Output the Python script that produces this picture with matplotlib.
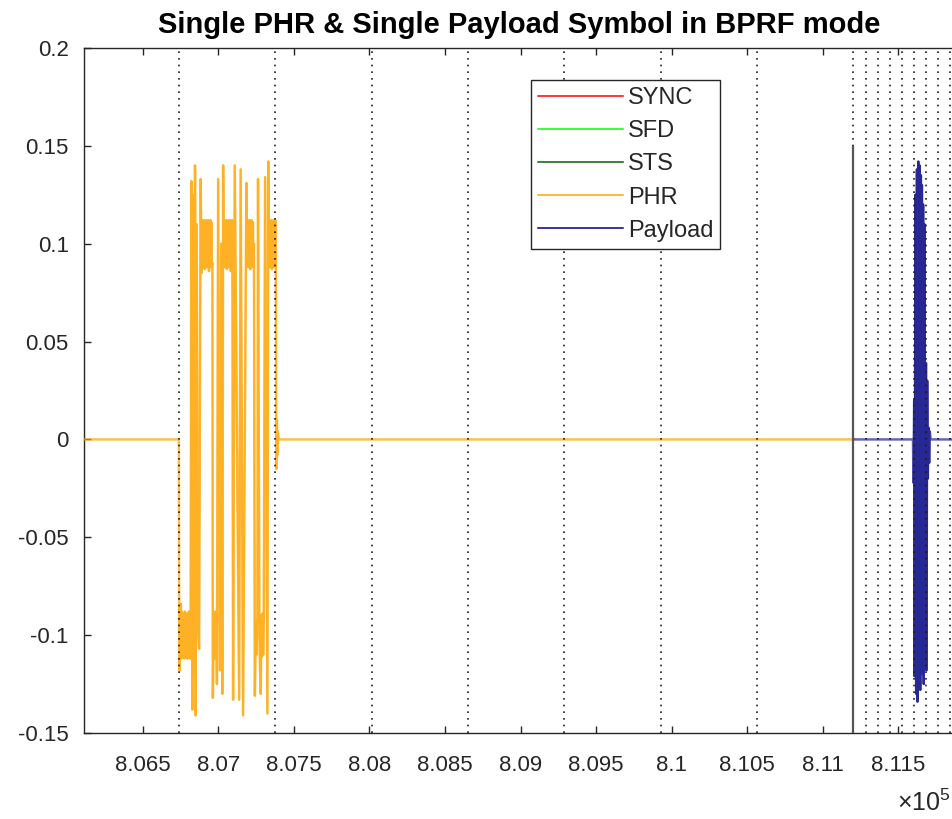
import matplotlib
matplotlib.use("Agg")
import matplotlib.pyplot as plt
from matplotlib.lines import Line2D
from matplotlib.ticker import FixedLocator, FuncFormatter

plt.rcParams['font.family'] = ['Liberation Sans', 'DejaVu Sans']
plt.rcParams['mathtext.fontset'] = 'custom'
plt.rcParams['mathtext.rm'] = 'Liberation Sans'
plt.rcParams['axes.unicode_minus'] = False

# frame positions (samples)
x_start = 806000
phr_start = 806738
payload_start = 811204
x_end = 812000

# dotted markers: symbol boundaries and payload chip boundaries
symbol_bounds = [806738, 807376, 808014, 808652, 809290, 809928, 810566, 811204]
chip_bounds = [811284, 811364, 811443, 811523, 811603, 811683, 811762, 811842]
marker_lo, marker_hi = -0.15, 0.15

# PHR symbol, offsets from phr_start and amplitude
phr_dt = [0, 2, 5,
          7, 10, 13, 17, 20, 23, 26, 30, 33, 36, 40, 43, 46, 50, 53, 56, 60, 63, 66, 70, 73, 76,
          78, 83, 89, 96, 103, 107, 111, 118, 126, 134, 144, 151, 156,
          159, 162, 166, 169, 172, 175, 179, 182, 185, 189, 192, 195, 199, 202, 205, 209, 212, 215, 218,
          222, 225, 231, 235, 239, 244, 248, 252, 260, 271, 281, 288, 293, 298,
          301, 305, 308, 311, 314, 318, 321, 324, 328, 331, 334, 338, 341, 344, 348, 351, 354,
          359, 370, 399, 409, 425, 447, 453,
          457, 460, 463, 467, 470, 473, 477, 480, 483, 487, 490, 493, 497,
          503, 510, 514, 520, 524, 533, 536, 542, 546, 550, 554, 558, 562, 571, 586, 592, 597,
          599, 602, 606, 609, 612, 616, 619, 622, 626, 629, 632, 636, 639, 642,
          645, 649, 652, 655, 662]
phr_val = [0.0, -0.085, -0.118,
           -0.086, -0.110, -0.084, -0.112, -0.088, -0.111, -0.089, -0.109, -0.090, -0.112, -0.088,
           -0.111, -0.091, -0.110, -0.089, -0.112, -0.090, -0.111, -0.088, -0.110, -0.091, -0.112,
           -0.100, 0.132, -0.138, 0.125, -0.120, 0.140, -0.141, 0.110, -0.095, -0.107, 0.133, 0.085, 0.112,
           0.088, 0.111, 0.089, 0.112, 0.087, 0.110, 0.090, 0.112, 0.088, 0.111, 0.089, 0.112, 0.086,
           0.110, 0.090, 0.112, 0.088, 0.111, 0.089,
           0.090, -0.132, -0.090, -0.112, -0.088, -0.110, -0.090, -0.125, 0.133, -0.118, 0.100, -0.130, 0.140, 0.090,
           0.112, 0.088, 0.111, 0.089, 0.112, 0.087, 0.110, 0.090, 0.112, 0.088, 0.111, 0.089, 0.112,
           0.086, 0.110, 0.090, 0.112,
           -0.133, 0.140, -0.133, 0.138, -0.141, 0.131, 0.090,
           0.112, 0.088, 0.111, 0.089, 0.112, 0.087, 0.110, 0.090, 0.112, 0.088, 0.111, 0.089, 0.100,
           -0.131, -0.092, -0.110, -0.090, 0.133, -0.095, -0.112, -0.130, -0.090, -0.111, -0.089, -0.110,
           -0.092, 0.134, -0.140, 0.142, 0.090,
           0.112, 0.088, 0.111, 0.089, 0.112, 0.087, 0.110, 0.090, 0.112, 0.088, 0.111, 0.089, 0.112, 0.095,
           -0.015, 0.010, -0.008, 0.004, 0.0]

# payload symbol, offsets from payload_start and amplitude
pay_dt = [394, 397, 402, 404, 410, 415, 420, 424, 429, 434, 438, 442, 446, 449,
          453, 457, 461, 465, 470, 475, 480, 483, 488, 492, 497, 501, 505, 511]
pay_val = [0.0, -0.022, 0.020, -0.121, 0.125, -0.130, 0.138, -0.134, 0.142, -0.125, 0.140, -0.128,
           0.135, -0.120, 0.130, -0.115, 0.120, -0.125, 0.110, -0.110, 0.039, -0.118, 0.030, -0.020,
           0.006, -0.012, 0.004, 0.0]

assert len(phr_dt) == len(phr_val) and len(pay_dt) == len(pay_val)

phr_x = [x_start] + [phr_start + d for d in phr_dt] + [payload_start]
phr_y = [0.0] + phr_val + [0.0]
pay_x = [payload_start] + [payload_start + d for d in pay_dt] + [x_end]
pay_y = [0.0] + pay_val + [0.0]

c_orange = '#FFA500'
c_navy = '#000080'
txt = '#262626'

fig = plt.figure(figsize=(9.52, 8.19), dpi=100)
ax = fig.add_axes([84 / 952, 86 / 819, 871 / 952, 685 / 819])

ax.plot(phr_x, phr_y, color=c_orange, lw=1.8, alpha=0.7, zorder=3)
ax.plot(phr_x[2:-2], phr_y[2:-2], color=c_orange, lw=1.4, alpha=0.5, zorder=3)
ax.plot(pay_x, pay_y, color=c_navy, lw=1.8, alpha=0.6, zorder=3)
# burst drawn once more so the dense part reads dark navy
ax.plot(pay_x[2:-2], pay_y[2:-2], color=c_navy, lw=1.4, alpha=0.6, zorder=3)

for xb in symbol_bounds + chip_bounds:
    ax.axvline(xb, color='#1a1a1a', lw=1.2, linestyle=(0, (1, 3.0)), zorder=4)
ax.vlines(payload_start, marker_lo, marker_hi, color='#555555', lw=1.6, zorder=5)

ax.set_xlim(806110, 806110 + 871 * 6.62)
ax.set_ylim(-0.15, 0.2)

ax.xaxis.set_major_locator(FixedLocator([806500 + 500 * k for k in range(11)]))
ax.xaxis.set_major_formatter(FuncFormatter(lambda v, p: f'{v / 1e5:g}'))
ax.yaxis.set_major_locator(FixedLocator([-0.15 + 0.05 * k for k in range(8)]))
ax.yaxis.set_major_formatter(FuncFormatter(lambda v, p: f'{round(v, 2):g}'))

ax.tick_params(direction='in', length=5, width=1.0, top=True, right=False,
               labelsize=16, colors=txt)
ax.tick_params(axis='x', pad=16)
ax.tick_params(axis='y', pad=11)
for s in ax.spines.values():
    s.set_color(txt)
    s.set_linewidth(1.0)

ax.set_title('Single PHR & Single Payload Symbol in BPRF mode', fontsize=21,
             fontweight='bold', pad=11)

handles = [Line2D([], [], color='red', lw=1.1),
           Line2D([], [], color='#00FF00', lw=1.1),
           Line2D([], [], color='#006400', lw=1.1),
           Line2D([], [], color=c_orange, lw=1.1),
           Line2D([], [], color=c_navy, lw=1.1)]
labels = ['SYNC', 'SFD', 'STS', 'PHR', 'Payload']
leg = ax.legend(handles, labels, loc='upper left', bbox_to_anchor=(0.513, 0.953),
                borderaxespad=0, fontsize=17, handlelength=3.6, handletextpad=0.2,
                labelspacing=0.47, borderpad=0.3, fancybox=False, framealpha=1)
leg.get_frame().set_edgecolor(txt)
leg.get_frame().set_linewidth(1.0)
for t in leg.get_texts():
    t.set_color(txt)

fig.text(951 / 952, 8 / 819, r'$\times\mathregular{10^{5}}$', ha='right', va='baseline',
         fontsize=18, color=txt)

fig.savefig('out.png', dpi=100, facecolor='white')
